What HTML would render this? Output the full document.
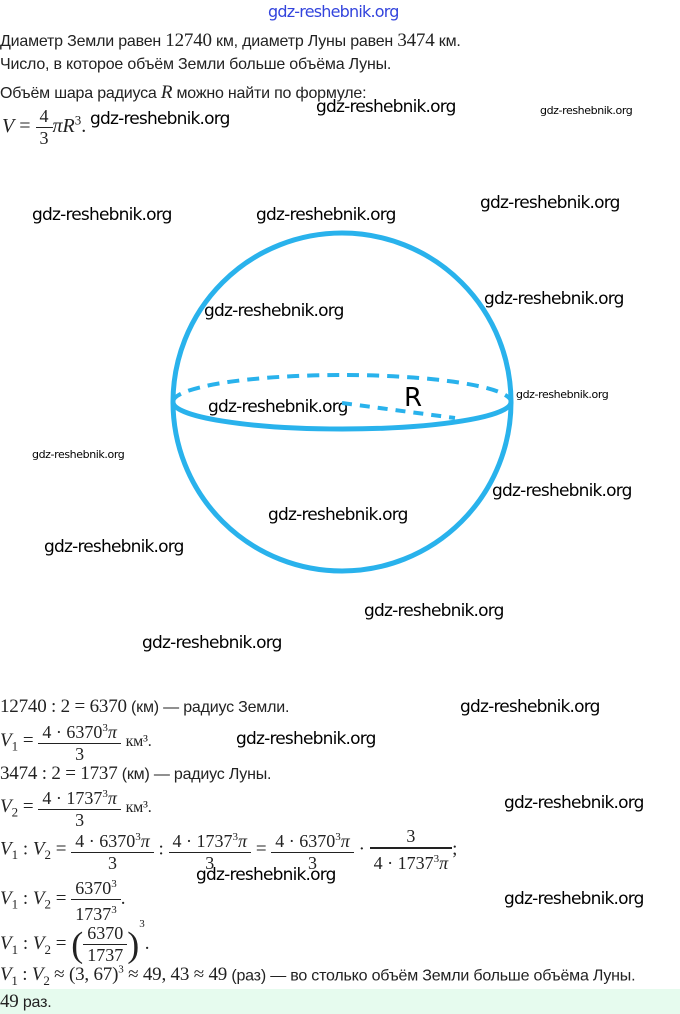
<!DOCTYPE html>
<html><head><meta charset="utf-8"><style>
body{margin:0;width:680px;height:1014px;background:#fff;position:relative;overflow:hidden;font-family:"Liberation Sans","DejaVu Sans",sans-serif;color:#222}
.a{position:absolute;white-space:nowrap}
.t{font-size:16px;letter-spacing:-0.2px}
.m{font-family:"Liberation Serif",serif;font-size:19px}
i{font-family:"Liberation Serif",serif;font-style:italic}
.w{font-family:"DejaVu Sans","Liberation Sans",sans-serif;font-size:17px;color:#000;letter-spacing:-0.8px}
.ws{font-family:"DejaVu Sans",sans-serif;font-size:11px;color:#000;letter-spacing:-0.4px}
.fr{display:inline-block;vertical-align:middle;text-align:center;font-family:"Liberation Serif",serif;font-size:18px;line-height:21px}
.fr span{display:block;padding:0 4px}
.fr span:first-child{border-bottom:1px solid #222}
</style></head><body>
<div class="a" style="left:268px;top:2px;font-size:16px;color:#3344dd;font-family:'DejaVu Sans',sans-serif;letter-spacing:-0.8px">gdz-reshebnik.org</div>
<div class="a t" style="left:0;top:30px">Диаметр Земли равен <span class="m">12740</span> км, диаметр Луны равен <span class="m">3474</span> км.</div>
<div class="a t" style="left:0;top:56px">Число, в которое объём Земли больше объёма Луны.</div>
<div class="a t" style="left:0;top:82px">Объём шара радиуса <i style="font-size:19px">R</i> можно найти по формуле:</div>
<div class="a m" style="left:2px;top:106px;font-size:20px"><i>V</i> = <span class="fr" style="font-size:18px"><span style="border:none">4</span><span style="border-top:1px solid #222">3</span></span><i>πR</i><sup style="font-size:13px">3</sup>.</div>

<div class="a w" style="left:90px;top:109px">gdz-reshebnik.org</div>
<div class="a w" style="left:316px;top:97px">gdz-reshebnik.org</div>
<div class="a ws" style="left:540px;top:104px">gdz-reshebnik.org</div>
<div class="a w" style="left:32px;top:205px">gdz-reshebnik.org</div>
<div class="a w" style="left:256px;top:205px">gdz-reshebnik.org</div>
<div class="a w" style="left:480px;top:193px">gdz-reshebnik.org</div>
<div class="a w" style="left:484px;top:289px">gdz-reshebnik.org</div>
<div class="a w" style="left:204px;top:301px">gdz-reshebnik.org</div>
<div class="a ws" style="left:516px;top:388px">gdz-reshebnik.org</div>
<div class="a w" style="left:208px;top:397px">gdz-reshebnik.org</div>
<div class="a ws" style="left:32px;top:448px">gdz-reshebnik.org</div>
<div class="a w" style="left:492px;top:481px">gdz-reshebnik.org</div>
<div class="a w" style="left:268px;top:505px">gdz-reshebnik.org</div>
<div class="a w" style="left:44px;top:537px">gdz-reshebnik.org</div>
<div class="a w" style="left:364px;top:601px">gdz-reshebnik.org</div>
<div class="a w" style="left:142px;top:633px">gdz-reshebnik.org</div>

<svg class="a" style="left:0;top:0" width="680" height="700">
<g fill="none" stroke="#29b2ec" stroke-width="5">
<circle cx="342" cy="402" r="169"/>
<path d="M173 402 A169 27 0 0 1 511 402" stroke-dasharray="12 8" stroke-width="4"/>
<path d="M173 402 A169 27 0 0 0 511 402"/>
<line x1="342" y1="403" x2="455" y2="418" stroke-dasharray="10 8" stroke-width="4"/>
</g>
<text x="404" y="406" font-family="DejaVu Sans,sans-serif" font-size="26" fill="#000">R</text>
</svg>

<div class="a t" style="left:0;top:696px"><span class="m">12740 : 2 = 6370</span> (км) — радиус Земли.</div>
<div class="a w" style="left:460px;top:697px">gdz-reshebnik.org</div>
<div class="a m" style="left:0;top:718px"><i>V</i><sub style="font-size:13px">1</sub> = <span class="fr"><span>4 · 6370<sup style="font-size:11px">3</sup><i>π</i></span><span>3</span></span> <span class="t">км³.</span></div>
<div class="a w" style="left:236px;top:729px">gdz-reshebnik.org</div>
<div class="a t" style="left:0;top:763px"><span class="m">3474 : 2 = 1737</span> (км) — радиус Луны.</div>
<div class="a m" style="left:0;top:784px"><i>V</i><sub style="font-size:13px">2</sub> = <span class="fr"><span>4 · 1737<sup style="font-size:11px">3</sup><i>π</i></span><span>3</span></span> <span class="t">км³.</span></div>
<div class="a w" style="left:504px;top:793px">gdz-reshebnik.org</div>
<div class="a m" style="left:0;top:826px"><i>V</i><sub style="font-size:13px">1</sub> : <i>V</i><sub style="font-size:13px">2</sub> = <span class="fr"><span>4 · 6370<sup style="font-size:11px">3</sup><i>π</i></span><span>3</span></span> : <span class="fr"><span>4 · 1737<sup style="font-size:11px">3</sup><i>π</i></span><span>3</span></span> = <span class="fr"><span>4 · 6370<sup style="font-size:11px">3</sup><i>π</i></span><span>3</span></span> · <span class="fr"><span>3</span><span style="border-top:1px solid #222;border-bottom:none">4 · 1737<sup style="font-size:11px">3</sup><i>π</i></span></span>;</div>
<div class="a w" style="left:196px;top:865px">gdz-reshebnik.org</div>
<div class="a m" style="left:0;top:874px"><i>V</i><sub style="font-size:13px">1</sub> : <i>V</i><sub style="font-size:13px">2</sub> = <span class="fr"><span>6370<sup style="font-size:11px">3</sup></span><span>1737<sup style="font-size:11px">3</sup></span></span>.</div>
<div class="a w" style="left:504px;top:889px">gdz-reshebnik.org</div>
<div class="a m" style="left:0;top:918px"><i>V</i><sub style="font-size:13px">1</sub> : <i>V</i><sub style="font-size:13px">2</sub> = <span style="font-size:36px;vertical-align:middle">(</span><span class="fr"><span>6370</span><span>1737</span></span><span style="font-size:36px;vertical-align:middle">)</span><sup style="font-size:11px;vertical-align:22px">3</sup>.</div>
<div class="a t" style="left:0;top:964px"><span class="m"><i>V</i><sub style="font-size:13px">1</sub> : <i>V</i><sub style="font-size:13px">2</sub> ≈ (3, 67)<sup style="font-size:11px">3</sup> ≈ 49, 43 ≈ 49</span> (раз) — во столько объём Земли больше объёма Луны.</div>
<div class="a" style="left:0;top:989px;width:680px;height:25px;background:#e6fbee"></div>
<div class="a t" style="left:0;top:991px"><span class="m">49</span> раз.</div>
</body></html>
